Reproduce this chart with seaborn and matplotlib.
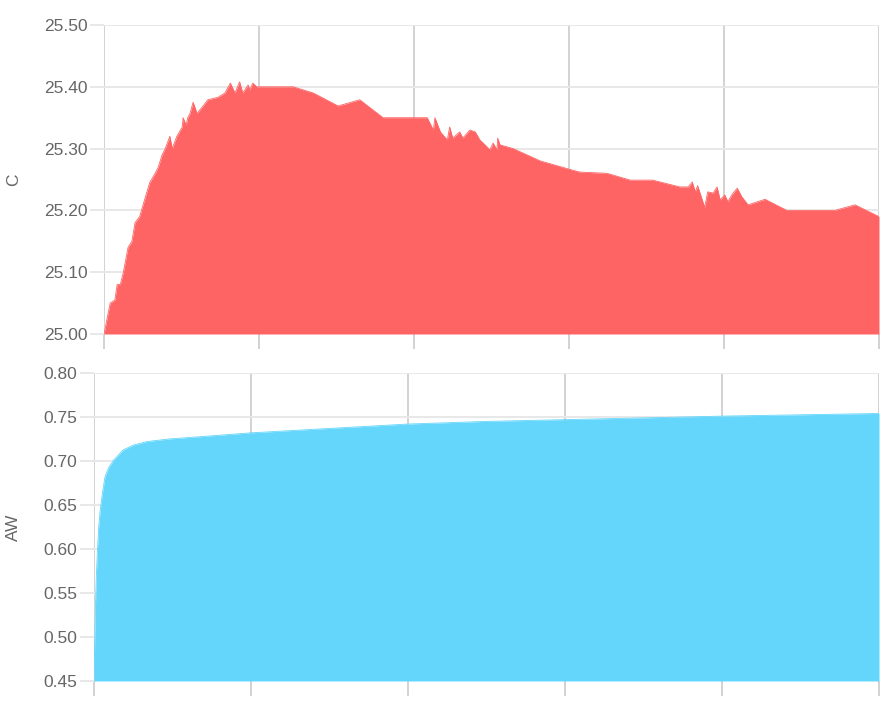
import numpy as np
import pandas as pd
import matplotlib
matplotlib.use("Agg")
import matplotlib.pyplot as plt
import seaborn as sns

# ---- data ----
c_x = [0, 0.8, 1.4, 1.7, 2.1, 2.5, 3.1, 3.6, 4.0, 4.6, 5.3, 5.9, 6.6, 7.0, 7.5, 7.9,
       8.5, 8.8, 9.4, 10.1, 10.2, 10.6, 10.8, 11.1, 11.5, 12.0, 12.6, 13.4, 14.7, 15.6,
       16.3, 16.9, 17.5, 17.9, 18.6, 18.8, 19.2, 19.7, 24.4, 27.0, 30.2, 33.0, 36.0,
       41.7, 42.5, 42.7, 43.4, 44.3, 44.6, 45.0, 45.9, 46.3, 47.2, 47.9, 48.5, 49.8,
       50.2, 50.7, 50.8, 51.1, 52.8, 56.3, 60.5, 61.4, 64.9, 67.9, 70.8, 74.3, 75.4,
       75.9, 76.3, 76.6, 77.5, 77.9, 78.6, 79.1, 79.5, 80.1, 80.5, 81.0, 81.7, 82.3,
       83.1, 85.3, 88.1, 94.3, 96.9, 100]
c_y = [25.00, 25.05, 25.055, 25.08, 25.08, 25.10, 25.14, 25.15, 25.18, 25.19, 25.22,
       25.245, 25.26, 25.27, 25.29, 25.30, 25.32, 25.30, 25.32, 25.335, 25.35, 25.338,
       25.35, 25.357, 25.375, 25.357, 25.366, 25.379, 25.383, 25.39, 25.406, 25.39,
       25.408, 25.39, 25.403, 25.395, 25.406, 25.40, 25.40, 25.39, 25.369, 25.379,
       25.35, 25.35, 25.33, 25.35, 25.327, 25.314, 25.335, 25.317, 25.327, 25.317,
       25.33, 25.327, 25.314, 25.298, 25.309, 25.298, 25.317, 25.306, 25.30, 25.28,
       25.265, 25.262, 25.26, 25.249, 25.249, 25.238, 25.238, 25.246, 25.23, 25.24,
       25.205, 25.23, 25.228, 25.238, 25.217, 25.225, 25.214, 25.225, 25.236, 25.222,
       25.209, 25.218, 25.20, 25.20, 25.209, 25.19]

aw_x = [0, 0.1, 0.2, 0.3, 0.45, 0.6, 0.8, 1.1, 1.4, 1.9, 2.5, 3.7, 5.0, 6.7, 9.5,
        13.5, 20, 30, 40, 50, 60, 70, 80, 90, 100]
aw_y = [0.45, 0.50, 0.54, 0.57, 0.60, 0.625, 0.645, 0.665, 0.682, 0.693, 0.701,
        0.7125, 0.718, 0.722, 0.725, 0.7276, 0.732, 0.737, 0.742, 0.745, 0.747,
        0.749, 0.751, 0.7525, 0.754]

c_ticks = [25.00, 25.10, 25.20, 25.30, 25.40, 25.50]
aw_ticks = [0.45, 0.50, 0.55, 0.60, 0.65, 0.70, 0.75, 0.80]
x_ticks = [0, 20, 40, 60, 80, 100]

RED = "#fe6464"
BLUE = "#64d6fc"
GRID_H = "#e8e8e8"
GRID_V = "#d2d2d2"
TXT = "#666666"

sns.set_theme(style="white")
plt.rcParams["font.family"] = ["Liberation Sans", "DejaVu Sans"]

fig = plt.figure(figsize=(8.9, 7.06), dpi=100)
ax1 = fig.add_axes([104 / 890, 1 - 334 / 706, 775 / 890, 309 / 706])
ax2 = fig.add_axes([94 / 890, 1 - 681 / 706, 785 / 890, 308 / 706])

df_c = pd.DataFrame({"t": c_x, "C": c_y})
df_aw = pd.DataFrame({"t": aw_x, "AW": aw_y})


def style(ax, yticks, ylim, fmt):
    ax.set_xlim(0, 100)
    ax.set_ylim(*ylim)
    ax.set_xticks(x_ticks)
    ax.set_yticks(yticks)
    ax.set_yticklabels([fmt.format(v) for v in yticks])
    ax.set_xticklabels([])
    ax.set_axisbelow(True)
    ax.xaxis.grid(True, color=GRID_V, linewidth=1.4)
    ax.yaxis.grid(True, color=GRID_H, linewidth=1.4)
    for s in ax.spines.values():
        s.set_visible(False)
    ax.tick_params(axis="x", length=11, width=1.4, color=GRID_V, bottom=True)
    ax.tick_params(axis="y", length=10, width=1.4, color=GRID_H, left=True,
                   labelsize=12.5, labelcolor=TXT, pad=2)
    ax.set_xlabel("")


sns.lineplot(data=df_c, x="t", y="C", ax=ax1, color=RED, linewidth=0.6)
ax1.fill_between(df_c["t"], df_c["C"], 25.0, color=RED, linewidth=0)
style(ax1, c_ticks, (25.0, 25.5), "{:.2f}")
ax1.set_ylabel("C", color=TXT, fontsize=12.5)
ax1.yaxis.set_label_coords((21 - 104) / 775, 0.5)

sns.lineplot(data=df_aw, x="t", y="AW", ax=ax2, color=BLUE, linewidth=0.6)
ax2.fill_between(df_aw["t"], df_aw["AW"], 0.45, color=BLUE, linewidth=0)
style(ax2, aw_ticks, (0.45, 0.80), "{:.2f}")
ax2.set_ylabel("AW", color=TXT, fontsize=12.5)
ax2.yaxis.set_label_coords((21 - 94) / 785, 0.5)

fig.savefig("out.png", dpi=100)
